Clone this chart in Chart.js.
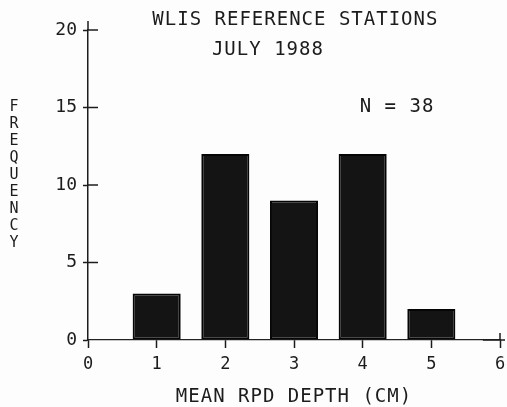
<!DOCTYPE html>
<html>
<head>
<meta charset="utf-8">
<style>
  html, body { margin: 0; padding: 0; background: #fdfdfd; }
  #chart { display: block; }
</style>
<script src="https://cdn.jsdelivr.net/npm/chart.js@4/dist/chart.umd.min.js"></script>
</head>
<body>
<canvas id="chart" width="507" height="407"></canvas>
<script>
// --- Data ---
const depths = [1, 2, 3, 4, 5];
const counts = [3, 12, 9, 12, 2];
const xTicks = [0, 1, 2, 3, 4, 5, 6];
const yTicks = [0, 5, 10, 15, 20];

// --- Text ---
const titleLines = ['WLIS REFERENCE STATIONS', 'JULY 1988'];
const nLabel     = 'N = 38';
const xTitle     = 'MEAN RPD DEPTH (CM)';
const yTitle     = 'FREQUENCY';

const FONT  = '"DejaVu Sans Mono", monospace';
const INK   = '#1c1c1c';

// --- Extra drawing: plotter style "+" ticks and free text ---
const plotterPlugin = {
  id: 'plotter',
  afterDraw(chart) {
    const { ctx, chartArea, scales: { x, y } } = chart;
    ctx.save();
    ctx.strokeStyle = INK;
    ctx.lineWidth = 1.5;

    // inner half of the y ticks, plus the axis stub above the top tick
    yTicks.forEach(v => {
      const py = y.getPixelForValue(v);
      if (v === 0) return;
      ctx.beginPath();
      ctx.moveTo(chartArea.left, py);
      ctx.lineTo(chartArea.left + 10, py);
      ctx.stroke();
    });
    ctx.beginPath();
    ctx.moveTo(chartArea.left, chartArea.top);
    ctx.lineTo(chartArea.left, chartArea.top - 9);
    ctx.stroke();

    // solid end of the x axis with a cross at the last tick
    const y0 = y.getPixelForValue(0);
    const xEnd = x.getPixelForValue(6);
    ctx.beginPath();
    ctx.moveTo(x.getPixelForValue(5.75), y0);
    ctx.lineTo(xEnd + 5, y0);
    ctx.moveTo(xEnd, y0 - 7);
    ctx.lineTo(xEnd, y0);
    ctx.stroke();

    // texts
    ctx.fillStyle = INK;
    ctx.textAlign = 'center';
    ctx.textBaseline = 'middle';
    ctx.letterSpacing = '1px';
    ctx.font = '19px ' + FONT;
    ctx.fillText(titleLines[0], x.getPixelForValue(3.02), chartArea.top - 10);
    ctx.fillText(titleLines[1], x.getPixelForValue(2.62), chartArea.top + 20);
    ctx.fillText(nLabel, x.getPixelForValue(4.5), y.getPixelForValue(15));
    ctx.fillText(xTitle, x.getPixelForValue(3.0), chartArea.bottom + 57);

    ctx.letterSpacing = '0px';
    ctx.font = '15px ' + FONT;
    const midY = (chartArea.top + chartArea.bottom) / 2;
    const step = 17;
    const startY = midY - 10 - step * (yTitle.length - 1) / 2;
    [...yTitle].forEach((ch, i) => {
      ctx.fillText(ch, 14, startY + i * step);
    });
    ctx.restore();
  }
};

// --- Chart ---
new Chart(document.getElementById('chart'), {
  type: 'bar',
  data: {
    datasets: [{
      data: depths.map((d, i) => ({ x: d, y: counts[i] })),
      backgroundColor: '#141414',
      borderColor: '#050505',
      borderWidth: 2,
      borderSkipped: false,
      barPercentage: 1.0,
      categoryPercentage: 0.7,
    }]
  },
  options: {
    responsive: false,
    animation: false,
    layout: { padding: { top: 30, left: 0, right: 7, bottom: 0 } },
    plugins: { legend: { display: false }, tooltip: { enabled: false } },
    scales: {
      x: {
        type: 'linear',
        min: 0,
        max: 6,
        offset: false,
        afterBuildTicks: s => { s.ticks = xTicks.map(v => ({ value: v })); },
        afterFit: s => { s.height = 67; s.paddingRight = 0; },
        grid: {
          offset: false,
          drawOnChartArea: false,
          tickLength: 8,
          tickColor: INK,
          tickWidth: 1.5,
        },
        border: { color: '#222', width: 1.2, dash: [2, 2] },
        ticks: {
          color: INK,
          padding: 6,
          font: { family: FONT, size: 17 },
        },
      },
      y: {
        min: 0,
        max: 20,
        afterBuildTicks: s => { s.ticks = yTicks.map(v => ({ value: v })); },
        afterFit: s => { s.width = 88; },
        grid: {
          drawOnChartArea: false,
          tickLength: 5,
          tickColor: INK,
          tickWidth: 1.5,
        },
        border: { color: INK, width: 1.5 },
        ticks: {
          color: INK,
          padding: 6,
          font: { family: FONT, size: 18 },
        },
      }
    }
  },
  plugins: [plotterPlugin]
});
</script>
</body>
</html>
